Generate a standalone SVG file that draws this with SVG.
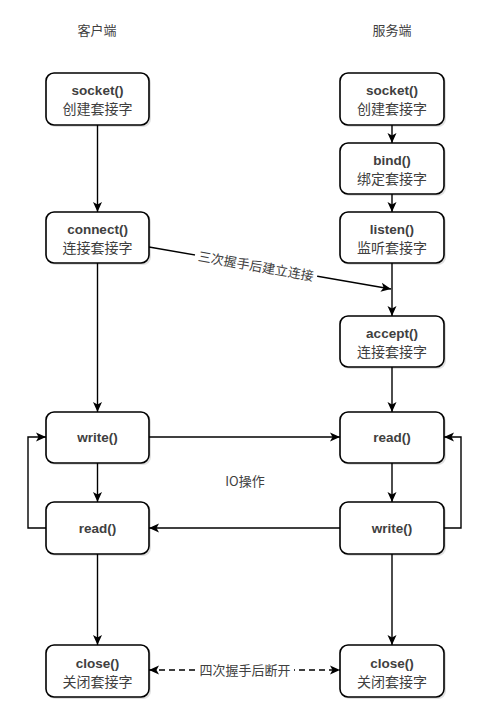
<svg xmlns="http://www.w3.org/2000/svg" width="490" height="722" viewBox="0 0 490 722">
<style>
  .box { fill: #ffffff; stroke: #000000; stroke-width: 1.6; }
  .shadow { fill: #000000; opacity: 0.12; }
  .t1 { font-family: "Liberation Sans", "Noto Sans CJK SC", sans-serif; font-size: 13.5px; font-weight: bold; fill: #404040; text-anchor: middle; }
  .t2 { font-family: "Noto Sans CJK SC", "Liberation Sans", sans-serif; font-size: 14px; fill: #404040; text-anchor: middle; }
  .title { font-family: "Noto Sans CJK SC", "Liberation Sans", sans-serif; font-size: 13px; fill: #404040; text-anchor: middle; }
  .lbl { font-family: "Noto Sans CJK SC", "Liberation Sans", sans-serif; font-size: 13px; fill: #404040; text-anchor: middle; }
  .ln { fill: none; stroke: #000000; stroke-width: 1.4; }
  .dash { stroke-dasharray: 6 4; }
</style>
<defs>
  <marker id="arr" markerUnits="userSpaceOnUse" markerWidth="12" markerHeight="12" viewBox="0 0 12 12" refX="11" refY="6" orient="auto-start-reverse">
    <path d="M1,1.5 L11,6 L1,10.5 L3.5,6 Z" fill="#000000"/>
  </marker>
</defs>
<rect width="490" height="722" fill="#ffffff"/>

<g id="titles">
  <text class="title" x="97" y="35">客户端</text>
  <text class="title" x="392" y="35">服务端</text>
</g>

<g id="connectors">
  <!-- client column -->
  <path class="ln" d="M97.5,125 V212" marker-end="url(#arr)"/>
  <path class="ln" d="M97.5,263 V412" marker-end="url(#arr)"/>
  <path class="ln" d="M97.5,463 V502" marker-end="url(#arr)"/>
  <path class="ln" d="M97.5,554 V645" marker-end="url(#arr)"/>
  <path class="ln" d="M46,528 H28 V437 H46" marker-end="url(#arr)"/>
  <!-- server column -->
  <path class="ln" d="M392,125 V143" marker-end="url(#arr)"/>
  <path class="ln" d="M392,194 V212" marker-end="url(#arr)"/>
  <path class="ln" d="M392,263 V316" marker-end="url(#arr)"/>
  <path class="ln" d="M392,367 V412" marker-end="url(#arr)"/>
  <path class="ln" d="M392,463 V502" marker-end="url(#arr)"/>
  <path class="ln" d="M392,554 V645" marker-end="url(#arr)"/>
  <path class="ln" d="M444,528 H461 V437 H444" marker-end="url(#arr)"/>
  <!-- cross -->
  <path class="ln" d="M149,247 L391,289" marker-end="url(#arr)"/>
  <path class="ln" d="M149,437 H340" marker-end="url(#arr)"/>
  <path class="ln" d="M340,528 H149" marker-end="url(#arr)"/>
  <path class="ln dash" d="M149,670 H340" marker-start="url(#arr)" marker-end="url(#arr)"/>
  <!-- labels -->
  <g transform="translate(256,266) rotate(9.9)">
    <rect x="-62" y="-9" width="124" height="18" fill="#ffffff"/>
    <text class="lbl" x="0" y="5">三次握手后建立连接</text>
  </g>
  <text class="lbl" x="245" y="486">IO操作</text>
  <rect x="196" y="661" width="98" height="18" fill="#ffffff"/>
  <text class="lbl" x="245" y="675">四次握手后断开</text>
</g>

<g id="c-socket">
  <rect class="shadow" x="48" y="75" width="103" height="52" rx="8"/>
  <rect class="box" x="46" y="73" width="103" height="52" rx="8"/>
  <text class="t1" x="97.5" y="95">socket()</text>
  <text class="t2" x="97.5" y="114">创建套接字</text>
</g>
<g id="c-connect">
  <rect class="shadow" x="48" y="214" width="103" height="51" rx="8"/>
  <rect class="box" x="46" y="212" width="103" height="51" rx="8"/>
  <text class="t1" x="97.5" y="234">connect()</text>
  <text class="t2" x="97.5" y="253">连接套接字</text>
</g>
<g id="c-write">
  <rect class="shadow" x="48" y="414" width="103" height="51" rx="8"/>
  <rect class="box" x="46" y="412" width="103" height="51" rx="8"/>
  <text class="t1" x="97.5" y="442">write()</text>
</g>
<g id="c-read">
  <rect class="shadow" x="48" y="504" width="103" height="52" rx="8"/>
  <rect class="box" x="46" y="502" width="103" height="52" rx="8"/>
  <text class="t1" x="97.5" y="533">read()</text>
</g>
<g id="c-close">
  <rect class="shadow" x="48" y="647" width="103" height="52" rx="8"/>
  <rect class="box" x="46" y="645" width="103" height="52" rx="8"/>
  <text class="t1" x="97.5" y="668">close()</text>
  <text class="t2" x="97.5" y="687">关闭套接字</text>
</g>

<g id="s-socket">
  <rect class="shadow" x="342" y="75" width="104" height="52" rx="8"/>
  <rect class="box" x="340" y="73" width="104" height="52" rx="8"/>
  <text class="t1" x="392" y="95">socket()</text>
  <text class="t2" x="392" y="114">创建套接字</text>
</g>
<g id="s-bind">
  <rect class="shadow" x="342" y="145" width="104" height="51" rx="8"/>
  <rect class="box" x="340" y="143" width="104" height="51" rx="8"/>
  <text class="t1" x="392" y="165">bind()</text>
  <text class="t2" x="392" y="184">绑定套接字</text>
</g>
<g id="s-listen">
  <rect class="shadow" x="342" y="214" width="104" height="51" rx="8"/>
  <rect class="box" x="340" y="212" width="104" height="51" rx="8"/>
  <text class="t1" x="392" y="234">listen()</text>
  <text class="t2" x="392" y="253">监听套接字</text>
</g>
<g id="s-accept">
  <rect class="shadow" x="342" y="318" width="104" height="51" rx="8"/>
  <rect class="box" x="340" y="316" width="104" height="51" rx="8"/>
  <text class="t1" x="392" y="338">accept()</text>
  <text class="t2" x="392" y="357">连接套接字</text>
</g>
<g id="s-read">
  <rect class="shadow" x="342" y="414" width="104" height="51" rx="8"/>
  <rect class="box" x="340" y="412" width="104" height="51" rx="8"/>
  <text class="t1" x="392" y="442">read()</text>
</g>
<g id="s-write">
  <rect class="shadow" x="342" y="504" width="104" height="52" rx="8"/>
  <rect class="box" x="340" y="502" width="104" height="52" rx="8"/>
  <text class="t1" x="392" y="533">write()</text>
</g>
<g id="s-close">
  <rect class="shadow" x="342" y="647" width="104" height="52" rx="8"/>
  <rect class="box" x="340" y="645" width="104" height="52" rx="8"/>
  <text class="t1" x="392" y="668">close()</text>
  <text class="t2" x="392" y="687">关闭套接字</text>
</g>
</svg>
